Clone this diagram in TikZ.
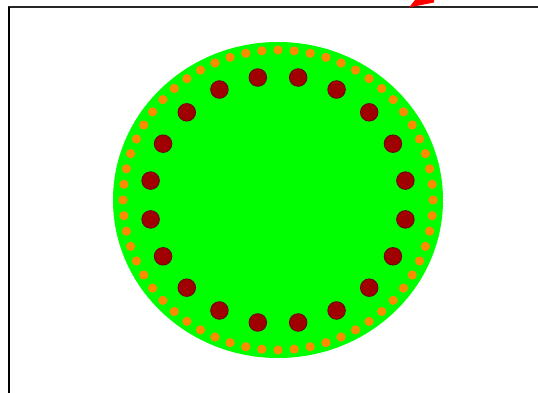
\documentclass[tikz,border=0pt]{standalone}
\usetikzlibrary{calc}
\definecolor{disc}{RGB}{0,255,0}
\definecolor{reddot}{RGB}{160,0,0}
\definecolor{reddotedge}{RGB}{110,0,0}
\definecolor{orangedot}{RGB}{255,140,0}
\definecolor{arrowred}{RGB}{255,0,0}
\tikzset{
  frameline/.style={line width=2.2pt,black},
  innerdot/.style={fill=reddot,draw=reddotedge,line width=0.8pt},
  outerdot/.style={fill=orangedot,draw=none},
}
\begin{document}
\begin{tikzpicture}[x=1pt,y=-1pt]
\useasboundingbox (0,0) rectangle (538,393);
\fill[white] (0,0) rectangle (538,393);
% frame
\draw[line width=1.8pt,black!85] (8,7) -- (538,7);
\draw[frameline] (9,7) -- (9,393);
% red arrowhead (partly cut off)
\fill[arrowred] (409,7.5) -- (415,0) -- (434,0) -- (434,2.5) -- cycle;
% disc
\coordinate (c) at (278,200);
\fill[disc] (c) ellipse [x radius=165, y radius=158];
% outer ring of orange dots
\foreach \a in {0,6,...,354}
  \fill[outerdot] ($(c)+({155*cos(\a)},{-150*sin(\a)})$) circle (4.6);
% inner ring of red dots
\foreach \a in {9,27,...,351}
  \filldraw[innerdot] ($(c)+({129*cos(\a)},{-124*sin(\a)})$) circle (8.8);
\end{tikzpicture}
\end{document}
